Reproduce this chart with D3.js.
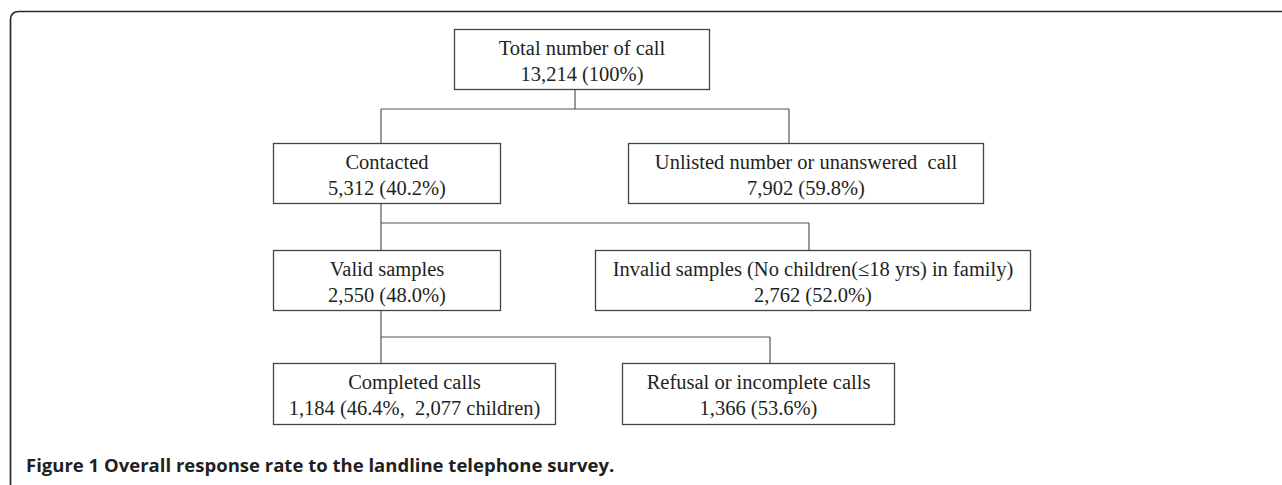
<!DOCTYPE html>
<html>
<head>
<meta charset="utf-8">
<script src="https://cdn.jsdelivr.net/npm/d3@7"></script>
<style>
  html, body { margin: 0; padding: 0; background: #fff; }
  svg { display: block; }
  text { white-space: pre; }
</style>
</head>
<body>
<svg id="chart" width="1282" height="485"></svg>
<script>
// ---- data ----
const nodeIds     = ["total", "contacted", "unlisted", "valid", "invalid", "completed", "refusal"];
const nodeTitles  = ["Total number of call", "Contacted", "Unlisted number or unanswered  call",
                     "Valid samples", "Invalid samples (No children(\u226418 yrs) in family)",
                     "Completed calls", "Refusal or incomplete calls"];
const nodeCounts  = ["13,214", "5,312", "7,902", "2,550", "2,762", "1,184", "1,366"];
const nodeShares  = ["100%", "40.2%", "59.8%", "48.0%", "52.0%", "46.4%,  2,077 children", "53.6%"];
const edgeParents  = ["total", "contacted", "valid"];
const edgeChildren = [["contacted", "unlisted"], ["valid", "invalid"], ["completed", "refusal"]];
const caption = ["Figure 1", " Overall response rate to the landline telephone survey."];

// ---- layout (positions only) ----
const layout = {
  total:     {x0: 454, x1: 709, row: 0},
  contacted: {x0: 273, x1: 500, row: 1},
  unlisted:  {x0: 628, x1: 983, row: 1},
  valid:     {x0: 273, x1: 500, row: 2},
  invalid:   {x0: 595, x1: 1030, row: 2},
  completed: {x0: 273, x1: 555, row: 3},
  refusal:   {x0: 622, x1: 894, row: 3}
};
const rowTop = [29, 143, 250, 363];
const rowH = [60, 60, 60, 61];
const stemX = {total: 575, contacted: 381, valid: 381};
const dropX = {contacted: 381, unlisted: 789, valid: 381, invalid: 809, completed: 381, refusal: 770};
const barY = {total: 109, contacted: 223, valid: 337};

const svg = d3.select("#chart");
const lineCol = "#555";
const textCol = "#231f20";

// frame
svg.append("path")
  .attr("d", "M10.5,500 L10.5,20 Q10.5,11.5 19,11.5 L1300,11.5")
  .attr("fill", "none").attr("stroke", "#2a2a2a").attr("stroke-width", 1.7);

const nodes = nodeIds.map((id, i) => ({
  id, title: nodeTitles[i], line2: nodeCounts[i] + " (" + nodeShares[i] + ")",
  ...layout[id], y: rowTop[layout[id].row], h: rowH[layout[id].row]
}));
const byId = Object.fromEntries(nodes.map(n => [n.id, n]));

// connectors
const g = svg.append("g").attr("fill", "none").attr("stroke", lineCol).attr("stroke-width", 1.2);
edgeParents.forEach((p, i) => {
  const pn = byId[p];
  const kids = edgeChildren[i];
  const yb = barY[p];
  g.append("line").attr("x1", stemX[p]).attr("x2", stemX[p]).attr("y1", pn.y + pn.h).attr("y2", yb);
  const xs = kids.map(k => dropX[k]);
  g.append("line").attr("x1", d3.min(xs)).attr("x2", d3.max(xs)).attr("y1", yb).attr("y2", yb);
  kids.forEach(k => {
    g.append("line").attr("x1", dropX[k]).attr("x2", dropX[k]).attr("y1", yb).attr("y2", byId[k].y);
  });
});

// boxes
const ng = svg.selectAll("g.node").data(nodes).join("g").attr("class", "node");
ng.append("rect")
  .attr("x", d => d.x0 + 0.5).attr("y", d => d.y + 0.5)
  .attr("width", d => d.x1 - d.x0).attr("height", d => d.h)
  .attr("fill", "#fff").attr("stroke", "#444").attr("stroke-width", 1.3);
ng.append("text")
  .attr("x", d => (d.x0 + d.x1) / 2 + 0.5).attr("y", d => d.y + 26)
  .attr("text-anchor", "middle")
  .attr("font-family", "'Liberation Serif', 'Times New Roman', serif")
  .attr("font-size", 20.5).attr("fill", textCol)
  .text(d => d.title);
ng.append("text")
  .attr("x", d => (d.x0 + d.x1) / 2 + 0.5).attr("y", d => d.y + 52)
  .attr("text-anchor", "middle")
  .attr("font-family", "'Liberation Serif', 'Times New Roman', serif")
  .attr("font-size", 20.5).attr("fill", textCol)
  .text(d => d.line2);

// caption
const cap = svg.append("text")
  .attr("x", 26).attr("y", 472)
  .attr("font-family", "'Open Sans', 'Noto Sans', sans-serif")
  .attr("font-size", 17).attr("fill", textCol).attr("font-weight", 700);
cap.append("tspan").text(caption[0]);
cap.append("tspan").text(caption[1]);
// fit caption to reference width
const w = cap.node().getComputedTextLength();
const target = 589;
cap.attr("font-size", 17 * target / w);
</script>
</body>
</html>
